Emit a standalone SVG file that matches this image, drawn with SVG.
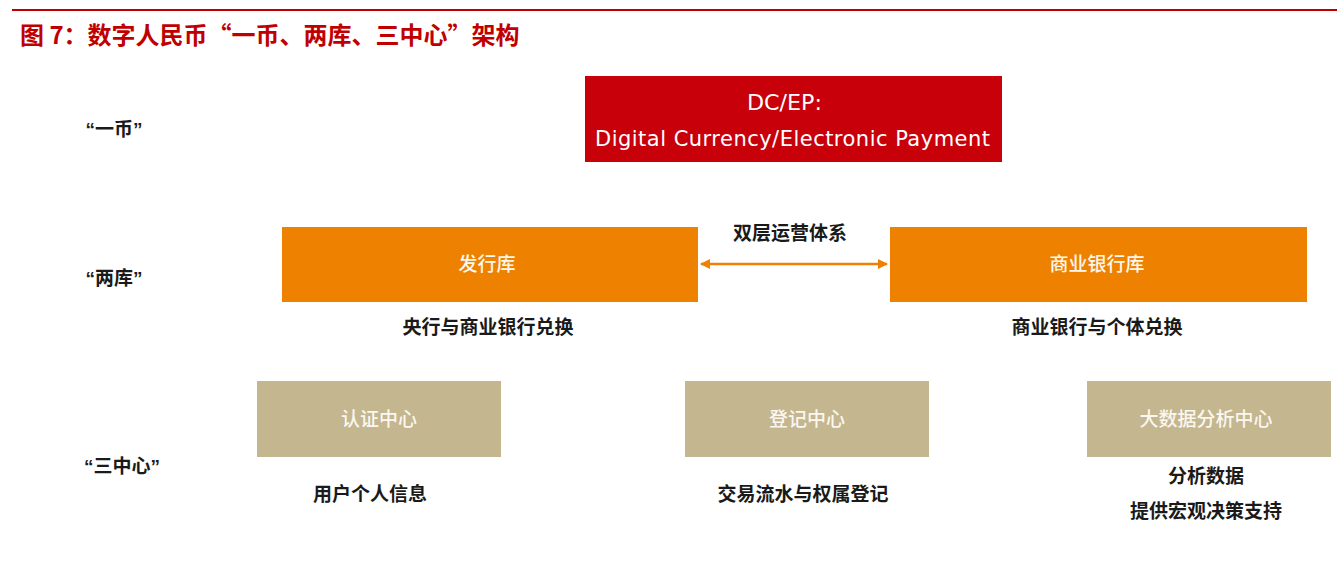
<svg xmlns="http://www.w3.org/2000/svg" width="1337" height="562" viewBox="0 0 1337 562">
<defs>
<style>
.cn{font-family:"Noto Sans CJK SC","Liberation Sans",sans-serif;}
.lbl{font-size:19px;font-weight:bold;fill:#1a1a1a;text-anchor:middle;}
.side{font-size:19px;font-weight:bold;fill:#1a1a1a;text-anchor:middle;font-family:"Liberation Sans","Noto Sans CJK SC",sans-serif;}
.wt{font-size:19px;font-weight:500;fill:#fbf7ef;text-anchor:middle;}
.en{font-family:"DejaVu Sans","Liberation Sans",sans-serif;font-size:21px;fill:#ffffff;}
.red{fill:#C8000A;}
.org{fill:#EE8200;}
.tan{fill:#C4B68F;}
</style>
<marker id="ah" viewBox="0 0 10 10" refX="9" refY="5" markerWidth="4" markerHeight="4" orient="auto-start-reverse">
<path d="M0,0 L10,5 L0,10 z" fill="#EE8200"/>
</marker>
</defs>
<rect width="1337" height="562" fill="#ffffff"/>
<line x1="12" y1="10" x2="1337" y2="10" stroke="#C00000" stroke-width="2"/>
<text class="cn" x="20" y="44" font-size="24" font-weight="bold" fill="#C00000">图 7：数字人民币“一币、两库、三中心”架构</text>

<text class="side" x="114" y="136">“一币”</text>
<text class="side" x="114" y="285">“两库”</text>
<text class="side" x="122" y="473">“三中心”</text>

<g id="dcep">
<rect class="red" x="585" y="76" width="417" height="86"/>
<text class="en" x="747" y="110" textLength="75" lengthAdjust="spacingAndGlyphs">DC/EP:</text>
<text class="en" x="595" y="146" textLength="395" lengthAdjust="spacing">Digital Currency/Electronic Payment</text>
</g>

<g id="issue">
<rect class="org" x="282" y="227" width="416" height="75"/>
<text class="cn wt" x="487" y="271">发行库</text>
<text class="cn lbl" x="488" y="334">央行与商业银行兑换</text>
</g>

<g id="bank">
<rect class="org" x="890" y="227" width="417" height="75"/>
<text class="cn wt" x="1097" y="271">商业银行库</text>
<text class="cn lbl" x="1097" y="334">商业银行与个体兑换</text>
</g>

<g id="connectors">
<line x1="701" y1="264" x2="887" y2="264" stroke="#EE8200" stroke-width="2.5" marker-start="url(#ah)" marker-end="url(#ah)"/>
<text class="cn lbl" x="790" y="240">双层运营体系</text>
</g>

<g id="auth">
<rect class="tan" x="257" y="381" width="244" height="76"/>
<text class="cn wt" x="379" y="426">认证中心</text>
<text class="cn lbl" x="370" y="501">用户个人信息</text>
</g>

<g id="reg">
<rect class="tan" x="685" y="381" width="244" height="76"/>
<text class="cn wt" x="807" y="426">登记中心</text>
<text class="cn lbl" x="803" y="501">交易流水与权属登记</text>
</g>

<g id="bigdata">
<rect class="tan" x="1087" y="381" width="244" height="76"/>
<text class="cn wt" x="1206" y="426">大数据分析中心</text>
<text class="cn lbl" x="1206" y="483">分析数据</text>
<text class="cn lbl" x="1206" y="518">提供宏观决策支持</text>
</g>
</svg>
